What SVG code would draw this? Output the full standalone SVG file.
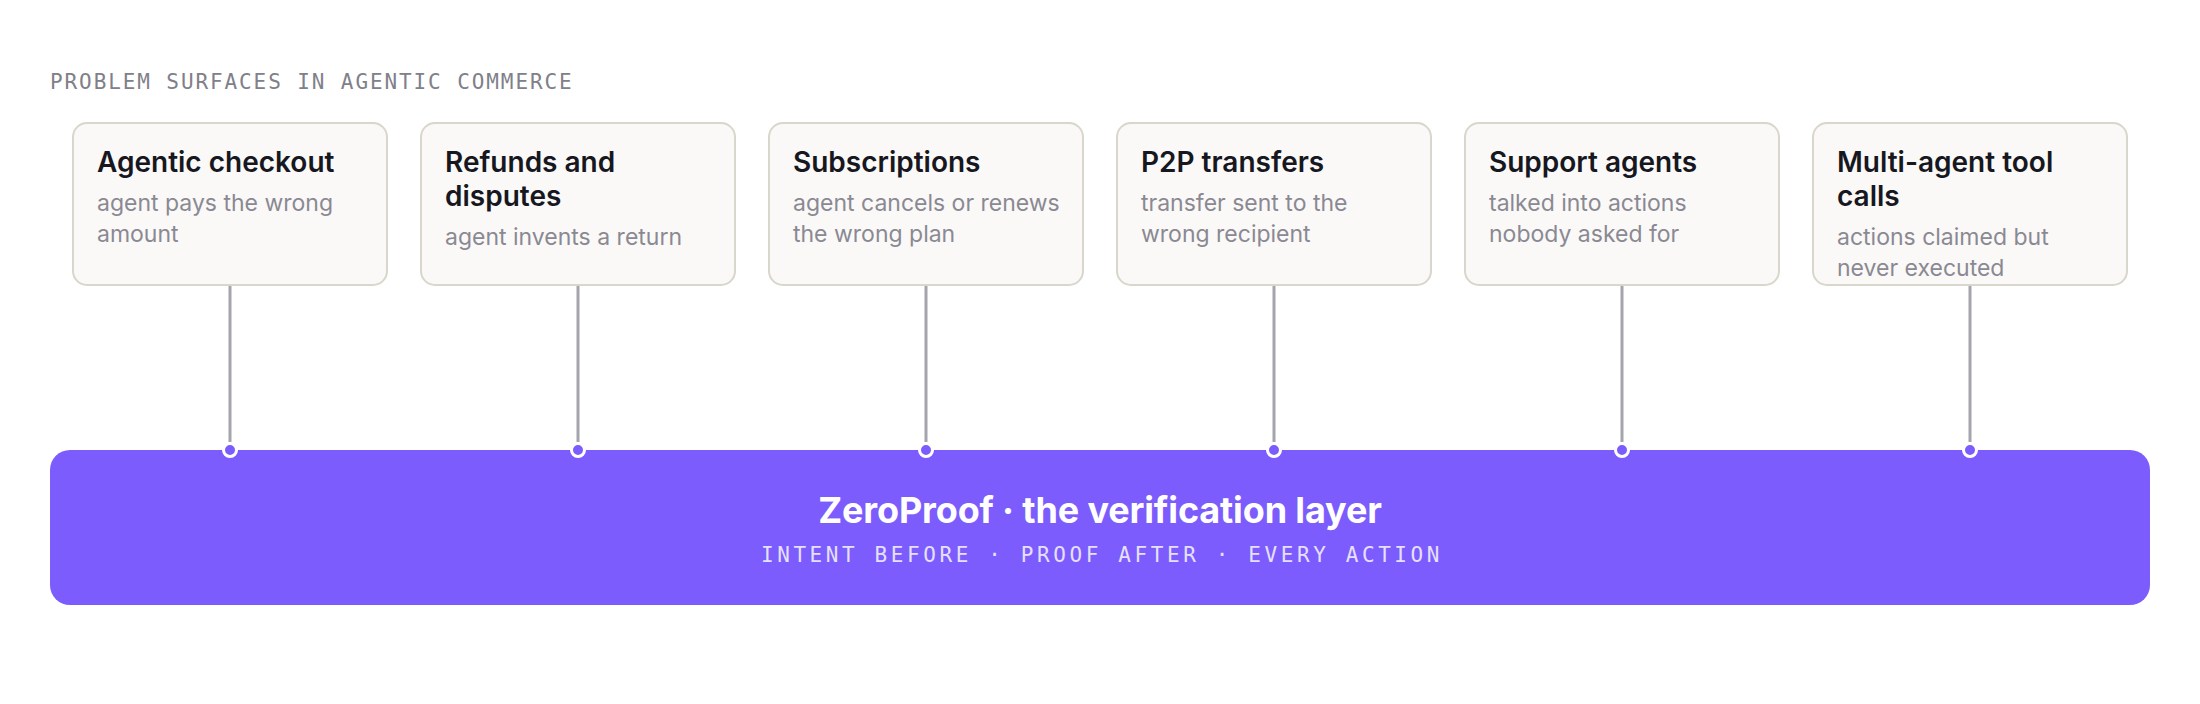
<svg xmlns="http://www.w3.org/2000/svg" width="2200" height="704" viewBox="0 0 2200 704">
<style>
.bg{fill:#ffffff}
.card{fill:#FAF9F7;stroke:#D9D6CC;stroke-width:2}
.t{font-family:Inter,"Noto Sans","Liberation Sans",sans-serif;font-size:28px;font-weight:600;fill:#17171f}
.s{font-family:Inter,"Noto Sans","Liberation Sans",sans-serif;font-size:23px;font-weight:400;fill:#8A8993}
.head{font-family:"DejaVu Sans Mono","Liberation Mono",monospace;font-size:21px;letter-spacing:1.9px;fill:#808089}
.conn{stroke:#A5A4AC;stroke-width:3;fill:none}
.dot{fill:#7C5CFC;stroke:#ffffff;stroke-width:3}
.bar{fill:#7C5CFC}
.bt{font-family:Inter,"Noto Sans","Liberation Sans",sans-serif;font-size:36px;font-weight:700;fill:#ffffff;letter-spacing:-0.15px}
.bs{font-family:"DejaVu Sans Mono","Liberation Mono",monospace;font-size:21px;letter-spacing:3.6px;fill:#E6E0FF}
</style>
<rect class="bg" x="0" y="0" width="2200" height="704"/>
<text class="head" x="50" y="89">PROBLEM SURFACES IN AGENTIC COMMERCE</text>

<g id="connectors">
<line class="conn" x1="230" y1="286" x2="230" y2="442"/>
<line class="conn" x1="578" y1="286" x2="578" y2="442"/>
<line class="conn" x1="926" y1="286" x2="926" y2="442"/>
<line class="conn" x1="1274" y1="286" x2="1274" y2="442"/>
<line class="conn" x1="1622" y1="286" x2="1622" y2="442"/>
<line class="conn" x1="1970" y1="286" x2="1970" y2="442"/>
</g>

<g id="card-checkout">
<rect class="card" x="73" y="123" width="314" height="162" rx="14"/>
<text class="t" x="97" y="172">Agentic checkout</text>
<text class="s" x="97" y="211">agent pays the wrong</text>
<text class="s" x="97" y="242">amount</text>
</g>
<g id="card-refunds">
<rect class="card" x="421" y="123" width="314" height="162" rx="14"/>
<text class="t" x="445" y="172">Refunds and</text>
<text class="t" x="445" y="206">disputes</text>
<text class="s" x="445" y="245">agent invents a return</text>
</g>
<g id="card-subscriptions">
<rect class="card" x="769" y="123" width="314" height="162" rx="14"/>
<text class="t" x="793" y="172">Subscriptions</text>
<text class="s" x="793" y="211">agent cancels or renews</text>
<text class="s" x="793" y="242">the wrong plan</text>
</g>
<g id="card-p2p">
<rect class="card" x="1117" y="123" width="314" height="162" rx="14"/>
<text class="t" x="1141" y="172">P2P transfers</text>
<text class="s" x="1141" y="211">transfer sent to the</text>
<text class="s" x="1141" y="242">wrong recipient</text>
</g>
<g id="card-support">
<rect class="card" x="1465" y="123" width="314" height="162" rx="14"/>
<text class="t" x="1489" y="172">Support agents</text>
<text class="s" x="1489" y="211">talked into actions</text>
<text class="s" x="1489" y="242">nobody asked for</text>
</g>
<g id="card-multiagent">
<rect class="card" x="1813" y="123" width="314" height="162" rx="14"/>
<text class="t" x="1837" y="172">Multi-agent tool</text>
<text class="t" x="1837" y="206">calls</text>
<text class="s" x="1837" y="245">actions claimed but</text>
<text class="s" x="1837" y="276">never executed</text>
</g>

<g id="zeroproof">
<rect class="bar" x="50" y="450" width="2100" height="155" rx="20"/>
<text class="bt" x="1100" y="523" text-anchor="middle">ZeroProof · the verification layer</text>
<text class="bs" x="1102" y="562" text-anchor="middle">INTENT BEFORE · PROOF AFTER · EVERY ACTION</text>
</g>

<g id="connector-dots">
<circle class="dot" cx="230" cy="450" r="6.5"/>
<circle class="dot" cx="578" cy="450" r="6.5"/>
<circle class="dot" cx="926" cy="450" r="6.5"/>
<circle class="dot" cx="1274" cy="450" r="6.5"/>
<circle class="dot" cx="1622" cy="450" r="6.5"/>
<circle class="dot" cx="1970" cy="450" r="6.5"/>
</g>
</svg>
